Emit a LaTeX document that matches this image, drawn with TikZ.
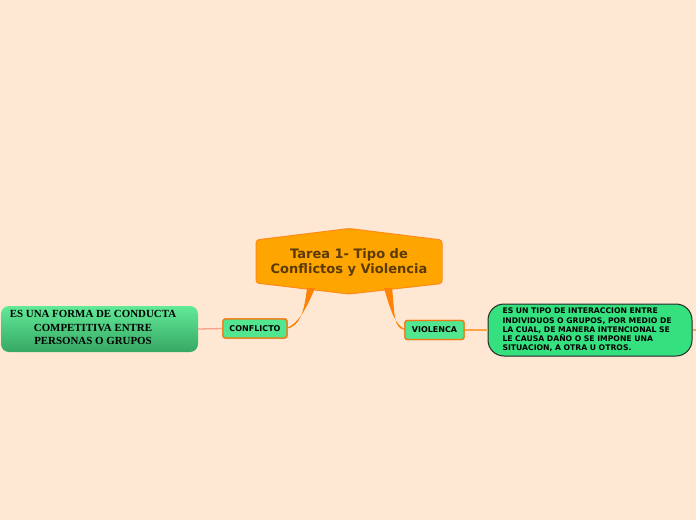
\documentclass[tikz,border=0pt]{standalone}
\usepackage{fontspec}
\usetikzlibrary{calc}
\setmainfont{DejaVu Sans}
\newfontfamily\slabfont{Liberation Serif}
\definecolor{bg}{HTML}{FEE8D4}
\definecolor{hexfill}{HTML}{FFA500}
\definecolor{hexline}{HTML}{FF8A1A}
\definecolor{hextext}{HTML}{5A3A08}
\definecolor{mint}{HTML}{52E690}
\definecolor{mintline}{HTML}{F27A12}
\definecolor{branch}{HTML}{FF8205}
\definecolor{salmon}{HTML}{F9A08C}
\definecolor{lightor}{HTML}{FFA347}
\definecolor{rightfill}{HTML}{35E07F}
\definecolor{lefttop}{HTML}{62EA97}
\definecolor{leftbot}{HTML}{36A864}
\tikzset{
  subbox/.style={draw=mintline, fill=mint, line width=1.4pt, rounded corners=2.5pt,
    font=\bfseries\fontsize{8}{9}\selectfont, inner sep=0pt, text=black},
}
\begin{document}
\begin{tikzpicture}[x=1pt,y=-1pt]
\useasboundingbox[fill=bg] (0,0) rectangle (696,520);
\node[subbox, minimum width=64pt, minimum height=19pt] (conf) at (255,328.5) {CONFLICTO};
\node[subbox, minimum width=59pt, minimum height=19pt] (viol) at (434.5,330) {VIOLENCA};
\node[draw=black!85, fill=rightfill, line width=1pt, rounded corners=16pt,
  minimum width=204pt, minimum height=52pt, text width=175pt, inner xsep=14pt,
  align=left, font=\bfseries\fontsize{7.7}{9.3}\selectfont] (def2) at (590,330)
  {ES UN TIPO DE INTERACCION ENTRE\\INDIVIDUOS O GRUPOS, POR MEDIO DE\\LA CUAL, DE MANERA INTENCIONAL SE\\LE CAUSA DAÑO O SE IMPONE UNA\\SITUACION, A OTRA U OTROS.};
\node[rounded corners=8pt, top color=lefttop, bottom color=leftbot,
  minimum width=197pt, minimum height=46pt, inner sep=0pt] (def1) at (99.5,329) {};
\node[font=\slabfont\bfseries\fontsize{10.9}{13.3}\selectfont, align=center, text=black, inner sep=0pt] (def1t) at (93,327.5)
  {ES UNA FORMA DE CONDUCTA\\COMPETITIVA ENTRE\\PERSONAS O GRUPOS};
% central hexagon
\draw[fill=hexfill, draw=hexline, line width=1pt, rounded corners=3pt]
  (256,240) -- (349,228.5) -- (442,240) -- (442,283.5) -- (349,294) -- (256,283) -- cycle;
\node[font=\bfseries\fontsize{13}{15}\selectfont, text=hextext, align=center] (main) at (349,262.5)
  {Tarea 1- Tipo de\\Conflictos y Violencia};
\coordinate (mainL) at (311,288);
\coordinate (mainR) at (388,288);
% tapered branches
\fill[branch] ($(mainL)+(-4,0)$) .. controls (304,314) and (299,326) .. (conf.east)
  -- ($(conf.east)+(0,-1)$) .. controls (298,323) and (306,310) .. ($(mainL)+(4,0)$) -- cycle;
\fill[branch] ($(mainR)+(-4,0)$) .. controls (391,312) and (395,324) .. ($(viol.west)+(0,-1)$)
  -- (viol.west) .. controls (393,327) and (395,314) .. ($(mainR)+(4,0)$) -- cycle;
% straight links
\draw[salmon, line width=1.3pt] (def1.east) -- (conf.west);
\draw[lightor, line width=1.3pt] (viol.east) -- (def2.west);
\coordinate (stub) at (696,330);
\draw[lightor, line width=1.3pt] (def2.east) -- (stub);
% redraw nodes on top of branch ends
\node[subbox, minimum width=64pt, minimum height=19pt] at (conf) {CONFLICTO};
\node[subbox, minimum width=59pt, minimum height=19pt] at (viol) {VIOLENCA};
\end{tikzpicture}
\end{document}
